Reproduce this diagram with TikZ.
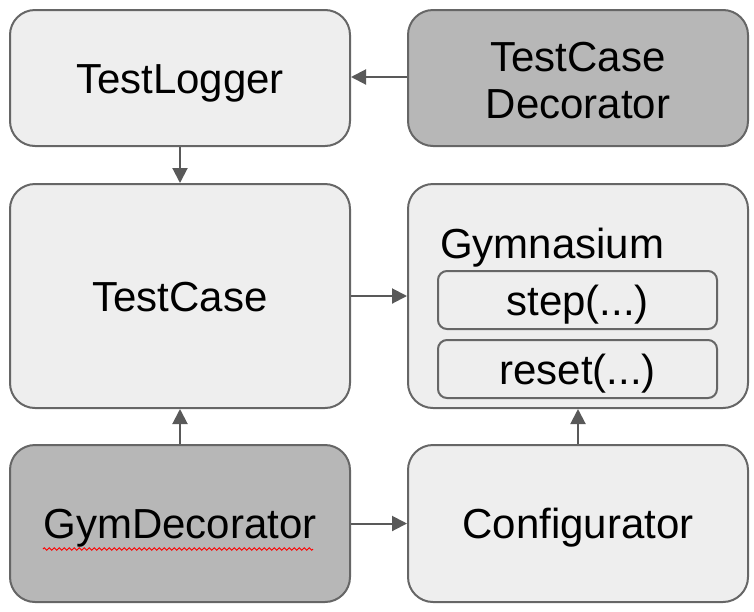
\documentclass[tikz,border=0pt]{standalone}
\usepackage{fontspec}
\setmainfont{Liberation Sans}
\usetikzlibrary{arrows.meta,decorations.pathmorphing}
\definecolor{boxlight}{HTML}{EEEEEE}
\definecolor{boxdark}{HTML}{B7B7B7}
\definecolor{boxline}{HTML}{666666}
\definecolor{arrowcol}{HTML}{595959}
\begin{document}
\begin{tikzpicture}[x=1pt,y=-1pt,
  bigbox/.style={draw=boxline, line width=2pt, rounded corners=25pt, minimum width=340pt, inner sep=0pt, font=\fontsize{42}{47}\selectfont, align=center, text=black},
  oneline/.style={text height=30pt, text depth=0pt},
  lightbox/.style={bigbox, fill=boxlight},
  darkbox/.style={bigbox, fill=boxdark},
  boxtext/.style={font=\fontsize{42}{47}\selectfont, align=center, inner sep=0pt, text=black},
  methbox/.style={draw=boxline, line width=2pt, rounded corners=9pt, fill=boxlight, minimum width=279pt, minimum height=58pt, inner sep=0pt, font=\fontsize{42}{47}\selectfont, oneline},
  conn/.style={draw=arrowcol, line width=2pt, -{Triangle[length=15pt,width=15pt]}}]
\useasboundingbox (0,0) rectangle (754,611);
\node[lightbox, oneline, minimum height=136pt] (logger) at (180,78) {TestLogger};
\node[darkbox, minimum height=136pt] (tcdec) at (578,78) {};
\node[boxtext] (tcdectext) at (578,81) {TestCase\\Decorator};
\node[lightbox, oneline, minimum height=224pt] (testcase) at (180,296) {TestCase};
\node[lightbox, minimum height=224pt] (gym) at (578,296) {};
\node[boxtext, anchor=west, oneline] (gymlabel) at (440,243) {Gymnasium};
\node[methbox] (step) at (577.5,300) {step(...)};
\node[methbox] (reset) at (577.5,369) {reset(...)};
\node[darkbox, oneline, minimum height=157pt] (gymdec) at (180,523.5) {GymDecorator};
\node[lightbox, oneline, minimum height=157pt] (config) at (578,523.5) {Configurator};
\coordinate (sqa) at (43,549);
\coordinate (sqb) at (313,549);
\draw[red, line width=0.8pt, decorate, decoration={zigzag, segment length=5pt, amplitude=1.3pt}] (sqa) -- (sqb);
\draw[conn] (tcdec.west |- 0,77) -- (logger.east |- 0,77);
\draw[conn] (logger.south) -- (testcase.north);
\draw[conn] (testcase.east) -- (gym.west);
\draw[conn] (gymdec.north) -- (testcase.south);
\draw[conn] (gymdec.east) -- (config.west);
\draw[conn] (config.north) -- (gym.south);
\end{tikzpicture}
\end{document}
